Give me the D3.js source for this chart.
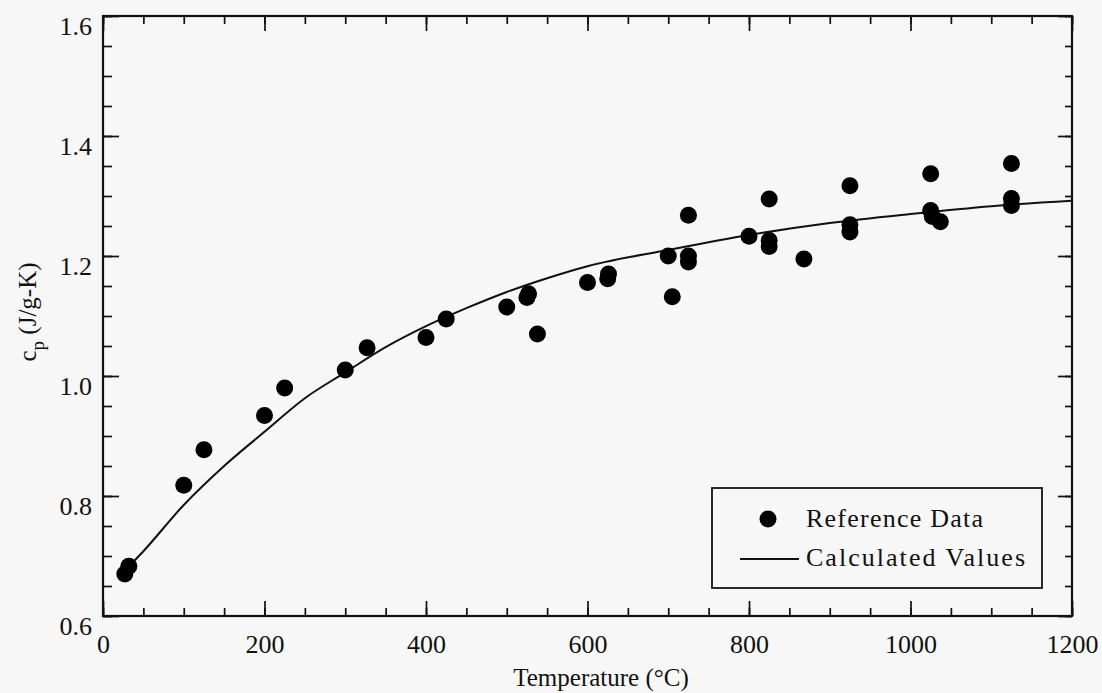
<!DOCTYPE html>
<html>
<head>
<meta charset="utf-8">
<script src="https://cdn.jsdelivr.net/npm/d3@7"></script>
<style>
  body { margin: 0; background: #f7f7f7; }
  svg { display: block; font-family: "Liberation Serif", "Times New Roman", serif; }
</style>
</head>
<body>
<div id="viz"></div>
<script>
var width = 1102,
  height = 693;

// reference data (temperature degC, cp J/g-K)
var refTemp = [27, 32, 100, 125, 200, 225, 300, 327, 400, 425, 500, 525, 527, 538, 600, 625, 626,
  700, 705, 725, 725, 725, 800, 825, 825, 825, 868, 925, 925, 925, 1025, 1025, 1027, 1037, 1125, 1125, 1125];
var refCp = [0.670, 0.683, 0.818, 0.877, 0.934, 0.980, 1.010, 1.047, 1.064, 1.095, 1.115, 1.131, 1.137, 1.070, 1.156, 1.162, 1.170,
  1.200, 1.132, 1.268, 1.190, 1.200, 1.233, 1.295, 1.216, 1.226, 1.195, 1.317, 1.240, 1.252, 1.337, 1.276, 1.266, 1.257, 1.354, 1.284, 1.296];

// calculated values
var calcTemp = [30, 50, 100, 150, 200, 250, 300, 350, 400, 450, 500, 550, 600, 700, 800, 900, 1000, 1100, 1200];
var calcCp = [0.680, 0.708, 0.785, 0.850, 0.907, 0.963, 1.006, 1.048, 1.083, 1.113, 1.140, 1.163, 1.183, 1.210, 1.235, 1.255, 1.270, 1.283, 1.292];

var xMajor = [0, 200, 400, 600, 800, 1000, 1200];
var xMinor = d3.range(0, 1201, 50);
var yMajor = [0.6, 0.8, 1.0, 1.2, 1.4, 1.6];
var yMinor = d3.range(0.6, 1.6001, 0.05);

var plotLeft = 103, plotRight = 1072, plotTop = 16, plotBottom = 616;

var x = d3.scaleLinear().domain([0, 1200]).range([plotLeft, plotRight]);
var y = d3.scaleLinear().domain([0.6, 1.6]).range([plotBottom, plotTop]);

var svg = d3.select('#viz').append('svg')
  .attr('width', width)
  .attr('height', height);

svg.append('rect')
  .attr('width', width)
  .attr('height', height)
  .attr('fill', '#f7f7f7');

function styleAxis(g) {
  g.attr('font-family', null).attr('font-size', null);
  g.select('.domain').remove();
  g.selectAll('.tick line').attr('stroke', '#111').attr('stroke-width', 1.7);
  g.selectAll('.tick text').attr('fill', '#111').attr('font-size', 26);
}

// minor ticks, all four sides
svg.append('g').attr('transform', 'translate(0,' + plotBottom + ')')
  .call(d3.axisBottom(x).tickValues(xMinor).tickSize(-8).tickFormat(''))
  .call(styleAxis);
svg.append('g').attr('transform', 'translate(0,' + plotTop + ')')
  .call(d3.axisTop(x).tickValues(xMinor).tickSize(-8).tickFormat(''))
  .call(styleAxis);
svg.append('g').attr('transform', 'translate(' + plotLeft + ',0)')
  .call(d3.axisLeft(y).tickValues(yMinor).tickSize(-9).tickFormat(''))
  .call(styleAxis);
svg.append('g').attr('transform', 'translate(' + plotRight + ',0)')
  .call(d3.axisRight(y).tickValues(yMinor).tickSize(-7).tickFormat(''))
  .call(styleAxis);

// major ticks with labels
svg.append('g').attr('transform', 'translate(0,' + plotBottom + ')')
  .call(d3.axisBottom(x).tickValues(xMajor).tickSize(-15).tickPadding(19).tickFormat(d3.format('d')))
  .call(styleAxis);
svg.append('g').attr('transform', 'translate(0,' + plotTop + ')')
  .call(d3.axisTop(x).tickValues(xMajor).tickSize(-15).tickFormat(''))
  .call(styleAxis);
svg.append('g').attr('transform', 'translate(' + plotLeft + ',0)')
  .call(d3.axisLeft(y).tickValues(yMajor).tickSize(-16).tickPadding(11).tickFormat(d3.format('.1f')))
  .call(styleAxis)
  .selectAll('.tick text').attr('dy', '0.7em');
svg.append('g').attr('transform', 'translate(' + plotRight + ',0)')
  .call(d3.axisRight(y).tickValues(yMajor).tickSize(-14).tickFormat(''))
  .call(styleAxis);

// frame
svg.append('rect')
  .attr('x', plotLeft)
  .attr('y', plotTop)
  .attr('width', plotRight - plotLeft)
  .attr('height', plotBottom - plotTop)
  .attr('fill', 'none')
  .attr('stroke', '#111')
  .attr('stroke-width', 2.2);

// calculated curve
var line = d3.line()
  .x(function (d, i) { return x(calcTemp[i]); })
  .y(function (d, i) { return y(calcCp[i]); })
  .curve(d3.curveMonotoneX);

svg.append('path')
  .datum(calcTemp)
  .attr('d', line)
  .attr('fill', 'none')
  .attr('stroke', '#111')
  .attr('stroke-width', 2);

// reference points
svg.append('g').selectAll('circle')
  .data(refTemp)
  .enter().append('circle')
  .attr('cx', function (d) { return x(d); })
  .attr('cy', function (d, i) { return y(refCp[i]); })
  .attr('r', 8.5)
  .attr('fill', '#000');

// axis titles
svg.append('text')
  .attr('x', 601)
  .attr('y', 686)
  .attr('text-anchor', 'middle')
  .attr('font-size', 25)
  .attr('fill', '#111')
  .text('Temperature (°C)');

var yTitle = svg.append('text')
  .attr('transform', 'translate(36,312) rotate(-90)')
  .attr('text-anchor', 'middle')
  .attr('font-size', 25)
  .attr('fill', '#111');
yTitle.append('tspan').text('c');
yTitle.append('tspan').attr('dy', 8).attr('font-size', 19).text('p');
yTitle.append('tspan').attr('dy', -8).text(' (J/g-K)');

// legend
var legend = svg.append('g');
legend.append('rect')
  .attr('x', 712)
  .attr('y', 488)
  .attr('width', 330)
  .attr('height', 100)
  .attr('fill', '#f7f7f7')
  .attr('stroke', '#111')
  .attr('stroke-width', 1.8);
legend.append('circle')
  .attr('cx', 768)
  .attr('cy', 519)
  .attr('r', 8.5)
  .attr('fill', '#000');
legend.append('line')
  .attr('x1', 740)
  .attr('x2', 799)
  .attr('y1', 559)
  .attr('y2', 559)
  .attr('stroke', '#111')
  .attr('stroke-width', 1.8);
legend.append('text')
  .attr('x', 806)
  .attr('y', 527)
  .attr('font-size', 26)
  .attr('fill', '#111')
  .attr('textLength', 177)
  .attr('lengthAdjust', 'spacing')
  .text('Reference Data');
legend.append('text')
  .attr('x', 806)
  .attr('y', 566)
  .attr('font-size', 26)
  .attr('fill', '#111')
  .attr('textLength', 219)
  .attr('lengthAdjust', 'spacing')
  .text('Calculated  Values');
</script>
</body>
</html>
